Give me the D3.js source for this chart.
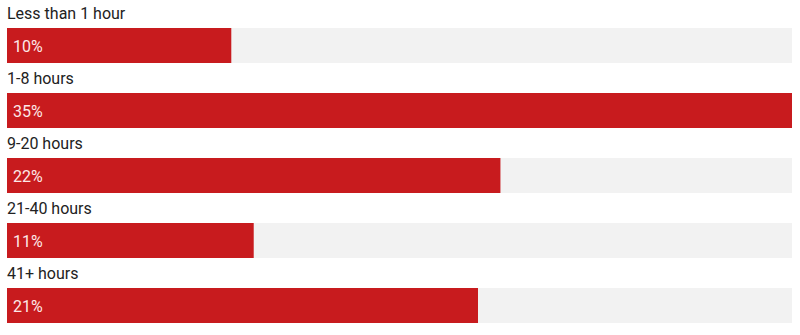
<!DOCTYPE html>
<html>
<head>
<meta charset="utf-8">
<script src="https://cdn.jsdelivr.net/npm/d3@7"></script>
<style>
  body { margin: 0; background: #fff; }
  svg { display: block; font-family: Roboto, "Noto Sans", sans-serif; }
</style>
</head>
<body>
<div id="chart"></div>
<script>
const categories = ["Less than 1 hour", "1-8 hours", "9-20 hours", "21-40 hours", "41+ hours"]
const values = [10, 35, 22, 11, 21]
const valueLabels = ["10%", "35%", "22%", "11%", "21%"]

const width = 800
const height = 335
const marginLeft = 7
const marginRight = 792
const barH = 35
const step = 65
const marginTop = 28

const svg = d3.select("#chart").append("svg")
  .attr("width", width)
  .attr("height", height)

const x = d3.scaleLinear()
  .domain([0, d3.max(values)])
  .range([marginLeft, marginRight])

const y = d3.scaleBand()
  .domain(categories)
  .range([marginTop, marginTop + step * categories.length])
  .paddingInner(0)

const data = categories.map((c, i) => ({ cat: c, value: values[i], label: valueLabels[i] }))

const rows = svg.append("g")
  .selectAll("g")
  .data(data)
  .join("g")
  .attr("transform", d => `translate(0,${y(d.cat)})`)

/* gray track */
rows.append("rect")
  .attr("x", marginLeft)
  .attr("y", 0)
  .attr("width", marginRight - marginLeft)
  .attr("height", barH)
  .attr("fill", "#f2f2f2")

/* red bar */
rows.append("rect")
  .attr("x", marginLeft)
  .attr("y", 0)
  .attr("width", d => x(d.value) - marginLeft)
  .attr("height", barH)
  .attr("fill", "#c81b1e")

/* category label above bar */
rows.append("text")
  .attr("x", marginLeft)
  .attr("y", -9)
  .attr("font-size", 16)
  .attr("fill", "#222")
  .text(d => d.cat)

/* value inside bar */
rows.append("text")
  .attr("x", 13)
  .attr("y", barH / 2 + 6)
  .attr("font-size", 16)
  .attr("fill", "#fde8e8")
  .text(d => d.label)
</script>
</body>
</html>
